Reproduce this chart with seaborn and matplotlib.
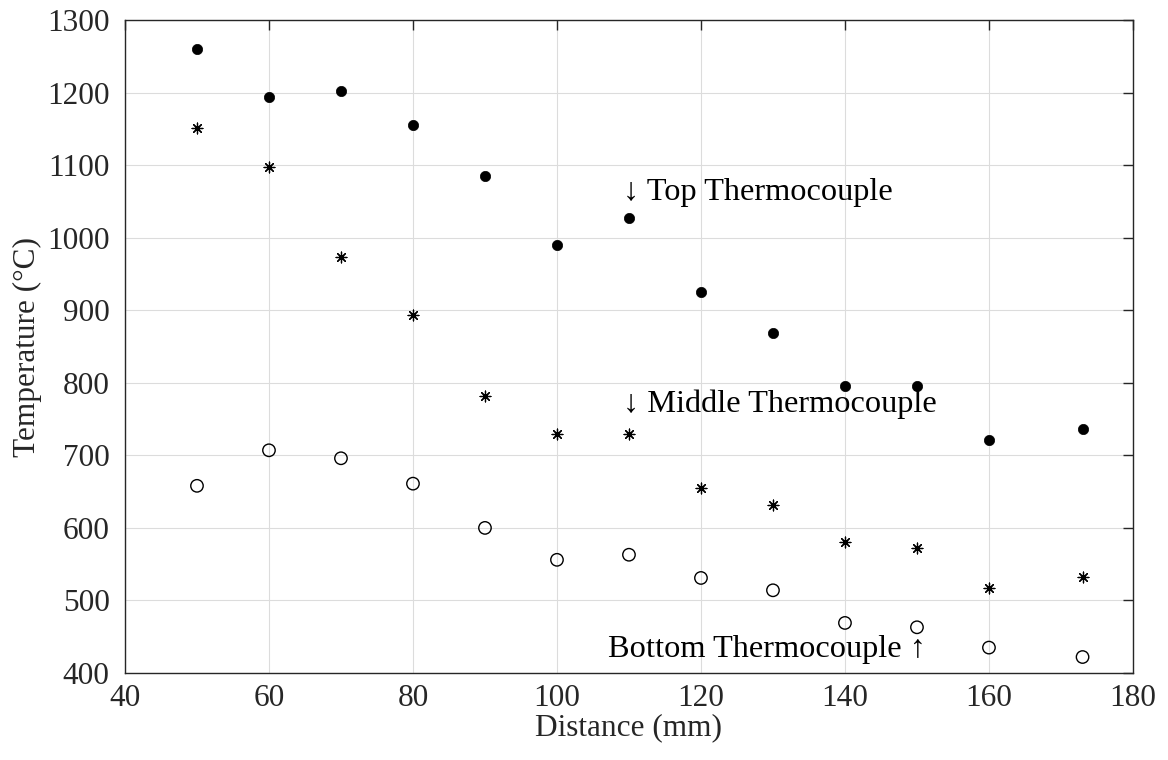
import matplotlib
matplotlib.use("Agg")
import matplotlib.pyplot as plt
import seaborn as sns
import pandas as pd

distance = [50, 60, 70, 80, 90, 100, 110, 120, 130, 140, 150, 160, 173]
top_temp = [1260, 1194, 1202, 1155, 1085, 990, 1027, 925, 869, 796, 796, 721, 736]
middle_temp = [1151, 1097, 973, 893, 782, 729, 729, 655, 632, 581, 572, 517, 532]
bottom_temp = [658, 707, 696, 661, 600, 556, 563, 531, 514, 469, 463, 435, 422]

x_ticks = [40, 60, 80, 100, 120, 140, 160, 180]
y_ticks = [400, 500, 600, 700, 800, 900, 1000, 1100, 1200, 1300]

sns.set_theme(style="white")
plt.rcParams['font.family'] = ['Liberation Serif', 'DejaVu Serif', 'DejaVu Sans']

fig = plt.figure(figsize=(11.68, 7.6), dpi=100)
ax = fig.add_axes([0.107, 0.1145, 0.863, 0.859])

df_top = pd.DataFrame({"Distance": distance, "Temp": top_temp})
df_mid = pd.DataFrame({"Distance": distance, "Temp": middle_temp})
df_bot = pd.DataFrame({"Distance": distance, "Temp": bottom_temp})

sns.scatterplot(data=df_top, x="Distance", y="Temp", ax=ax, marker="o",
                s=55, color="black", edgecolor="black", linewidth=0.5, zorder=3)
sns.scatterplot(data=df_mid, x="Distance", y="Temp", ax=ax, marker=(8, 2, 0),
                s=60, color="black", edgecolor="black", linewidth=0.9, zorder=3)
sns.scatterplot(data=df_bot, x="Distance", y="Temp", ax=ax, marker="o",
                s=80, facecolor="none", edgecolor="black", linewidth=1.0, zorder=3)

ax.set_xlim(40, 180)
ax.set_ylim(400, 1300)
ax.set_xticks(x_ticks)
ax.set_yticks(y_ticks)
ax.grid(True, color="#dcdcdc", linewidth=0.8)
ax.set_axisbelow(True)

for sp in ax.spines.values():
    sp.set_color("#262626")
    sp.set_linewidth(1.0)
    sp.set_visible(True)

ax.tick_params(direction="in", length=7, width=1.0, color="#262626",
               top=True, right=True, labelsize=22.5, labelcolor="#262626")
ax.tick_params(axis="y", pad=11)
ax.tick_params(axis="x", pad=8)

ax.set_xlabel("Distance (mm)", fontsize=22.5, color="#262626", labelpad=0)
ax.set_ylabel("Temperature (°C)", fontsize=22.5, color="#262626", labelpad=4)

ax.text(109.2, 1062, "↓ Top Thermocouple", fontsize=23.3, ha="left", va="center", color="black")
ax.text(109.2, 770, "↓ Middle Thermocouple", fontsize=23.3, ha="left", va="center", color="black")
ax.text(151.2, 432, "Bottom Thermocouple ↑", fontsize=23.3, ha="right", va="center", color="black")

fig.savefig("out.png", dpi=100)
